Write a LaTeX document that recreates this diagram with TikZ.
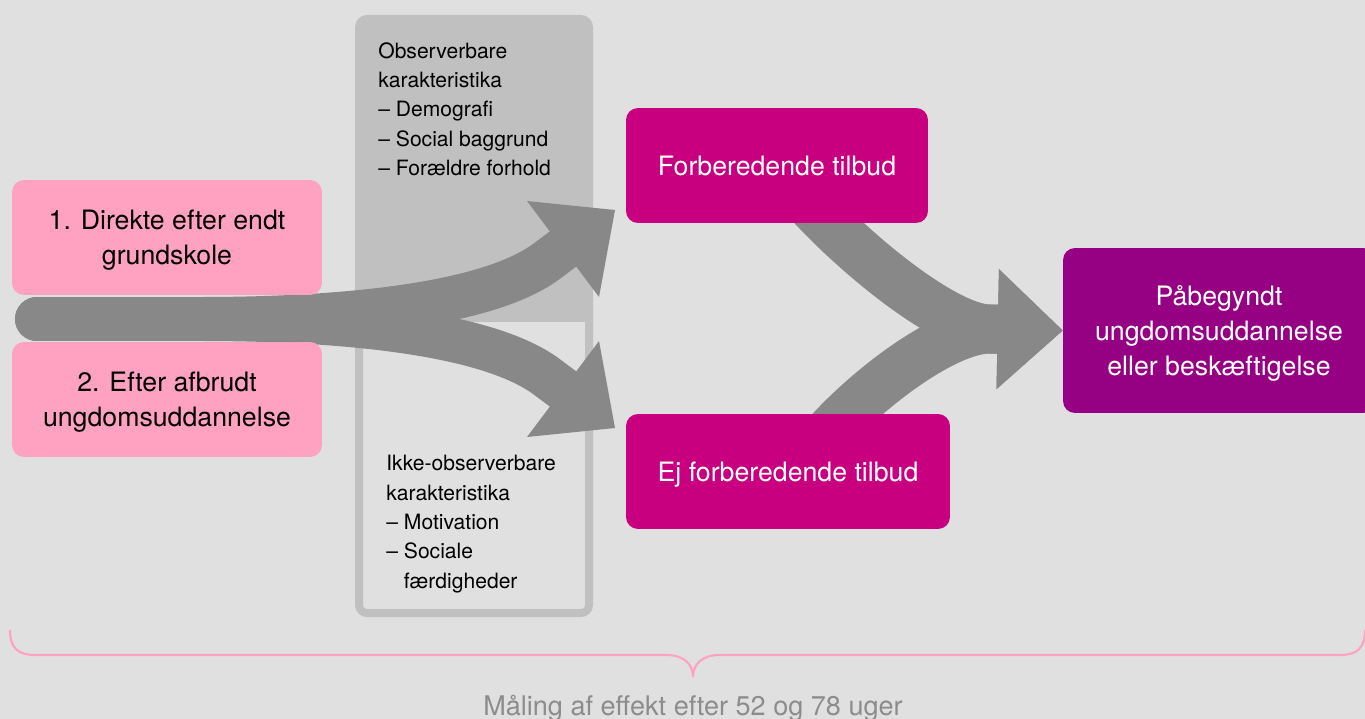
\documentclass[tikz,border=0pt]{standalone}
\usepackage{fontspec}
\setmainfont{TeX Gyre Heros}
\usetikzlibrary{arrows.meta}
\definecolor{canvas}{HTML}{E0E0E0}
\definecolor{panel}{HTML}{C0C0C0}
\definecolor{flowgrey}{HTML}{888888}
\definecolor{pinkbox}{HTML}{FFA2C2}
\definecolor{magentabox}{HTML}{C8007F}
\definecolor{purplebox}{HTML}{960082}
\definecolor{footgrey}{HTML}{8C8C8C}
\pgfdeclarelayer{back}
\pgfdeclarelayer{flows}
\pgfsetlayers{back,flows,main}
\tikzset{
	basebox/.style={rounded corners=0.24cm, inner sep=0pt, minimum height=2.3cm, text depth=-2pt, align=center, font=\fontsize{15.2pt}{19.9pt}\selectfont},
	startbox/.style={basebox, fill=pinkbox, text=black, minimum width=6.2cm},
	tilbud/.style={basebox, fill=magentabox, text=white},
	outcome/.style={basebox, fill=purplebox, text=white, minimum width=6.24cm, minimum height=3.3cm},
	notetext/.style={inner sep=0pt, align=left, anchor=north west, font=\fontsize{12pt}{16.7pt}\selectfont},
	flow/.style={draw=flowgrey, line width=0.88cm, line cap=round, -{Triangle[length=1.3cm, width=2.4cm, line width=0pt]}},
	brace/.style={draw=pinkbox, line width=1.2pt},
}

\begin{document}
\begin{tikzpicture}[x=0.02cm, y=-0.02cm]
			%%%%% START %%%%%
			
			\useasboundingbox (0,0) rectangle (1365,719);
			\begin{pgfonlayer}{back}
			\fill[canvas] (0,0) rectangle (1365,719);
			\fill[panel, rounded corners=0.24cm] (355,322) |- (593,15) -- (593,322);
			\draw[panel, line width=0.16cm, rounded corners=0.16cm] (359,318) -- (359,613) -- (589,613) -- (589,318);
			\end{pgfonlayer}
			
			\node[startbox] (direct) at (167,237.5) {1. Direkte efter endt\\grundskole};
			\node[startbox] (afbrudt) at (167,399.5) {2. Efter afbrudt\\ungdomsuddannelse};
			
			\node[notetext] (observed) at (378,42) {Observerbare\\karakteristika\\– Demografi\\– Social baggrund\\– Forældre forhold};
			\node[notetext] (hidden) at (386,455) {Ikke-observerbare\\karakteristika\\– Motivation\\– Sociale\\\hphantom{– }færdigheder};
			
			\node[tilbud, minimum width=6.04cm] (prep) at (777,165.5) {Forberedende tilbud};
			\node[tilbud, minimum width=6.48cm] (noprep) at (788,471.5) {Ej forberedende tilbud};
			\node[outcome] (result) at (1219,330.5) {Påbegyndt\\ungdomsuddannelse\\eller beskæftigelse};
			
			\coordinate (fork) at (37,319);
			\coordinate (tipprep) at (615,210);
			\coordinate (tipnoprep) at (615,428);
			
			\begin{pgfonlayer}{flows}
			\draw[flow] (fork) -- (200,319) .. controls (280,319) and (475,315) .. (547,261) -- (tipprep);
			\draw[flow] (fork) -- (200,319) .. controls (280,319) and (475,323) .. (547,377) -- (tipnoprep);
			
			\draw[flow, line width=0.98cm] ([shift={(25,29.5)}]prep.center) .. controls (850,250) and (945,329) .. (990,329) -- (result.west);
			\draw[flow, line width=0.98cm] ([shift={(34,-31.5)}]noprep.center) .. controls (865,390) and (945,329) .. (990,329) -- (result.west);
			\end{pgfonlayer}
			
			\draw[brace] (10,630) .. controls (10,648) and (18,655) .. (35,655) -- (666,655) .. controls (684,655) and (693,664) .. (693,677) .. controls (693,664) and (702,655) .. (720,655) -- (1340,655) .. controls (1357,655) and (1365,648) .. (1365,630);
			\node[text=footgrey, anchor=base, font=\fontsize{15.4pt}{19pt}\selectfont] (maaling) at (693,715) {Måling af effekt efter 52 og 78 uger};
			
			%%%%% END %%%%%
\end{tikzpicture}
\end{document}
